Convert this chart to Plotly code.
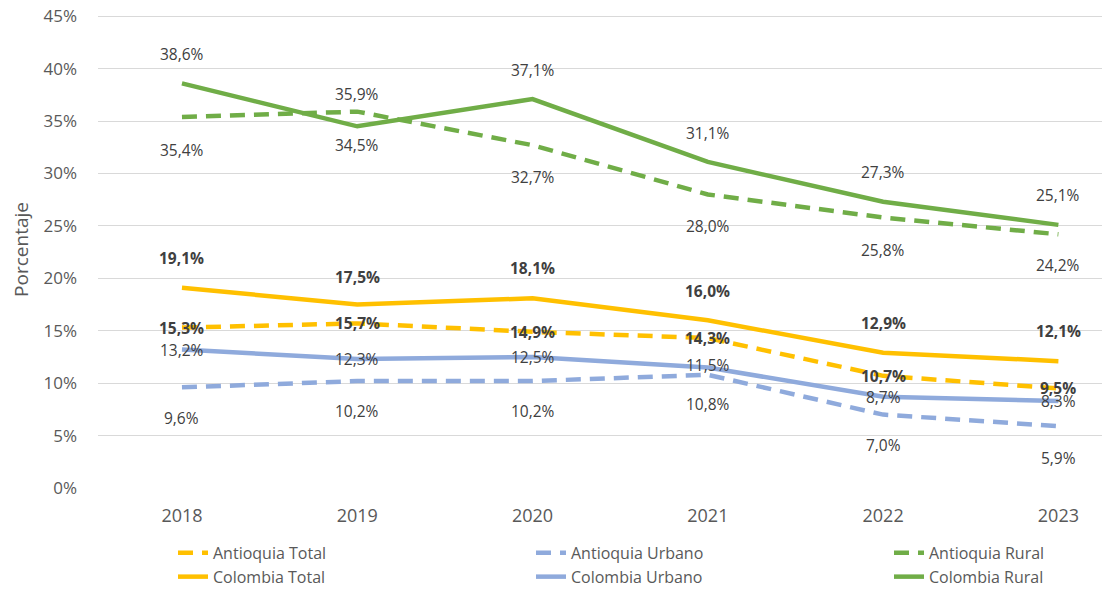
import plotly.graph_objects as go

years = ["2018", "2019", "2020", "2021", "2022", "2023"]
antioquia_total = [15.3, 15.7, 14.9, 14.3, 10.7, 9.5]
antioquia_urbano = [9.6, 10.2, 10.2, 10.8, 7.0, 5.9]
antioquia_rural = [35.4, 35.9, 32.7, 28.0, 25.8, 24.2]
colombia_total = [19.1, 17.5, 18.1, 16.0, 12.9, 12.1]
colombia_urbano = [13.2, 12.3, 12.5, 11.5, 8.7, 8.3]
colombia_rural = [38.6, 34.5, 37.1, 31.1, 27.3, 25.1]
y_ticks = [0, 5, 10, 15, 20, 25, 30, 35, 40, 45]
y_tick_text = [f"{v}%" for v in y_ticks]

GOLD = "#FFC000"
BLUE = "#8FAADC"
GREEN = "#70AD47"
FONT = "Open Sans"

# label vertical offsets (px) per point: positive = above, negative = below
shift_at = [0, 0, 0, 0, 0, 0]
shift_au = [-31, -30, -30, -29, -30, -32]
shift_ar = [-33, 18, -32, -32, -32, -31]
shift_ct = [30, 28, 30, 29, 30, 30]
shift_cu = [0, 0, 0, 2, 0, 0]
shift_cr = [29, -19, 29, 29, 30, 30]

series = [
    # name, values, color, dash, label shifts, bold
    ("Antioquia Total", antioquia_total, GOLD, "15px,9px", shift_at, True),
    ("Antioquia Urbano", antioquia_urbano, BLUE, "15px,9px", shift_au, False),
    ("Antioquia Rural", antioquia_rural, GREEN, "15px,9px", shift_ar, False),
    ("Colombia Total", colombia_total, GOLD, "solid", shift_ct, True),
    ("Colombia Urbano", colombia_urbano, BLUE, "solid", shift_cu, False),
    ("Colombia Rural", colombia_rural, GREEN, "solid", shift_cr, False),
]

W, H = 1110, 589
fig = go.Figure()
for name, vals, color, dash, shifts, bold in series:
    fig.add_trace(go.Scatter(
        x=years, y=vals, name=name, mode="lines",
        line=dict(color=color, width=4.5, dash=dash),
        hoverinfo="skip",
    ))
    for i, (yv, sh) in enumerate(zip(vals, shifts)):
        txt = f"{yv:.1f}".replace(".", ",") + "%"
        if bold:
            txt = f"<b>{txt}</b>"
        fig.add_annotation(x=i, y=yv, xref="x", yref="y", text=txt, showarrow=False,
                           yshift=sh,
                           font=dict(family=FONT, size=15.5, color="#404040"))

fig.update_layout(
    width=W, height=H,
    margin=dict(l=90, r=0, t=3, b=109),
    plot_bgcolor="white", paper_bgcolor="white",
    showlegend=True,
    legend=dict(
        orientation="h", x=-0.001, xanchor="left", y=-0.1005, yanchor="top",
        indentation=129, entrywidth=184, entrywidthmode="pixels",
        bgcolor="rgba(0,0,0,0)", font=dict(family=FONT, size=16, color="#595959"),
    ),
    xaxis=dict(
        type="category", range=[-0.479, 5.34], showgrid=False, showline=False,
        ticks="", tickfont=dict(family=FONT, size=18, color="#595959"),
        zeroline=False, tickangle=0, automargin=False, ticklabelstandoff=15,
    ),
    yaxis=dict(
        range=[0, 45.5], tickvals=y_ticks, ticktext=y_tick_text, showgrid=True,
        gridcolor="#D9D9D9", gridwidth=1, zeroline=False, showline=False,
        tickfont=dict(family=FONT, size=17, color="#595959"), ticklabelstandoff=20,
        ticklabeloverflow="allow",
        title=dict(text="Porcentaje", font=dict(family=FONT, size=19, color="#595959"), standoff=9),
        automargin=False,
    ),
)

fig.write_html("out.html")
